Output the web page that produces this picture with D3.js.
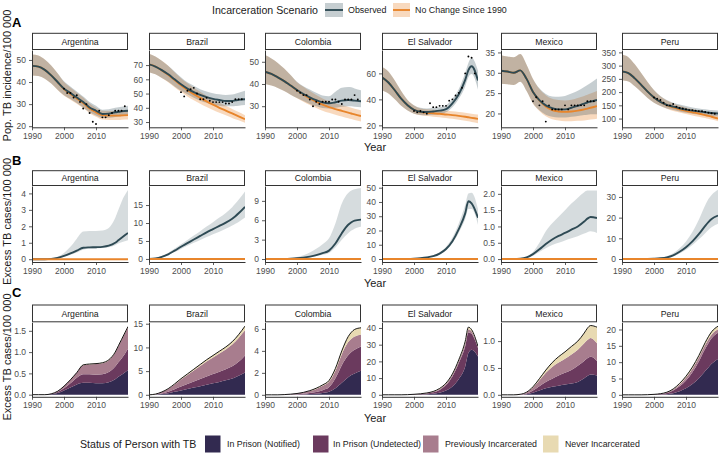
<!DOCTYPE html>
<html><head><meta charset="utf-8">
<script src="https://cdn.jsdelivr.net/npm/d3@7"></script>
<style>body{margin:0;background:#fff;} svg{display:block;font-family:"Liberation Sans",Arial,sans-serif;}</style>
</head><body><svg id="chart" width="720" height="453"></svg>
<script>
// ---------------- DATA ----------------
const countries = ["Argentina","Brazil","Colombia","El Salvador","Mexico","Peru"];
const years = [1990,1992,1994,1996,1998,2000,2002,2004,2006,2008,2010,2012,2014,2016,2017,2018,2020];
const pointYears = [2000,2001,2002,2003,2004,2005,2006,2007,2008,2009,2010,2011,2012,2013,2014,2015,2016,2017,2018,2019];
const xTicks = [1990,2000,2010];

// Panel A: population TB incidence per 100 000 (observed scenario, no-change scenario, reported points)
const argObs   = [47.3,47,45.5,43,40,37,35,33,31,28.5,27,25.5,25.7,26.3,26.5,26.7,27];
const argObsLo = [43,42.7,41.5,39.3,36.5,34,32.3,30.5,28.5,26.3,24.8,23.7,23.8,24.2,24.4,24.5,24.7];
const argObsHi = [52.5,52,50.2,47.5,44,40.3,38,35.7,33.5,31,29.3,27.5,27.7,28.3,28.6,28.8,29.3];
const argNc    = [47.3,47,45.5,43,40,36.8,34.6,32.6,30.5,28,26.3,25,24.8,24.8,24.8,24.9,25];
const argNcLo  = [43,42.7,41.5,39.3,36.4,33.8,32,30.2,28.2,25.9,24.3,23,22.8,22.8,22.8,22.9,23];
const argNcHi  = [52.5,52,50.2,47.5,44,40,37.5,35.2,33,30.3,28.4,27,26.9,26.9,27,27.1,27.3];
const argPts   = [37,35,35,33,34,31,28,30,26,22,21,27,24,24,25,26,27,27,27,29];

const braObs   = [70.5,69,66.5,63.5,60,56.5,53.5,51,49,47.5,46.3,45.5,44.8,44.8,45.2,45.6,46];
const braObsLo = [65,63.5,61,58.3,55,52,49.5,47,45,43.5,42.3,41.5,41,41,41.2,41.5,42];
const braObsHi = [78,76,73,69.5,65.5,61.5,58,55.5,53,51.5,50.3,49.5,49,49.3,49.8,50.5,52];
const braNc    = [70.5,69,66.3,63.2,59.5,55.8,52.5,49.6,47,44.5,42.2,40,38,36,35,34,32];
const braNcLo  = [65,63.5,60.9,58,54.5,51.2,48,45.3,42.9,40.6,38.5,36.5,34.7,32.9,32,31.2,29.5];
const braNcHi  = [78,76,73,69.5,65,60.8,57.2,54,51.2,48.5,46,43.6,41.4,39.2,38.1,37,34.8];
const braPts   = [51,48,52,53,54,50,46,46,47,45,44,44,44,44,43,43,44,46,46,46];

const colObs   = [45.5,44.5,43,41.3,39.3,37.3,35.5,34,32.7,31.7,31.3,31.8,32.5,32.8,32.7,32.5,32.2];
const colObsLo = [40,39.3,38.2,36.8,35.2,33.7,32.3,31,30,29.2,29,29.3,29.8,30,30,29.8,29.5];
const colObsHi = [53,51.5,49.5,47,44,41,39,37.5,36,34.8,34.5,36.5,38.3,38.6,38.5,38,37.2];
const colNc    = [45.5,44.5,43,41.3,39.3,37.2,35.3,33.5,32,30.7,29.6,28.7,27.9,27.1,26.7,26.3,25.6];
const colNcLo  = [40,39.3,38.2,36.8,35.2,33.6,32,30.5,29.2,28,27,26.2,25.4,24.6,24.2,23.8,23.1];
const colNcHi  = [53,51.5,49.5,47,44,40.8,38.7,36.8,35,33.5,32.3,31.3,30.5,29.7,29.3,28.9,28.2];
const colPts   = [37,36,35,35,33,30,32,31,32,32,32,33,33,32,31,33,33,33,35,33];

const slvObs   = [57,53,47,40.5,35.5,32,30.5,30.3,30.7,31.3,32.5,37,44,55,62.5,65.5,54.5];
const slvObsLo = [47,44.5,40,35,31.5,29,28,27.8,28.2,28.8,30,34,40.5,50,57,59.5,47.5];
const slvObsHi = [65,61.5,54.5,46.5,39.5,35.5,33.5,33,33.5,34,35.5,40.5,48,60.5,68,72,62];
const slvNc    = [57,53,47,40.5,35.5,32,30.2,29.7,29.3,28.9,28.4,27.9,27.3,26.6,26.2,25.8,25];
const slvNcLo  = [47,44.5,40,35,31.5,29,27.8,27.2,26.7,26.2,25.6,25,24.3,23.5,23.1,22.6,21.7];
const slvNcHi  = [65,61.5,54.5,46.5,39.5,35.3,33,32.3,32,31.6,31.2,30.8,30.3,29.7,29.3,29,28.3];
const slvPts   = [31,30,31,30,29,37,34,34,35,35,35,39,40,43,45,49,60,73,72,60];

const mexObs   = [30.5,30.3,30,30.6,28.5,25.3,23.3,22,21.3,21,21,21.4,21.9,22.4,22.7,22.9,23.3];
const mexObsLo = [27.3,27.2,27,27.8,25.5,22.5,20.8,19.7,19.2,19,19,19.2,19.4,19.6,19.7,19.8,19.8];
const mexObsHi = [34.3,34,33.8,34.6,32,28.5,26.2,24.8,24.2,24.1,24.3,24.9,25.6,26.5,27,27.5,28.6];
const mexNc    = [30.5,30.3,30,30.6,28.5,25.3,23.2,21.7,20.8,20.5,20.4,20.5,20.7,21,21.2,21.4,21.8];
const mexNcLo  = [27.3,27.2,27,27.8,25.5,22.4,20.6,19.3,18.6,18.3,18.1,18.1,18.2,18.3,18.4,18.5,18.7];
const mexNcHi  = [34.3,34,33.8,34.6,32,28.5,26,24.5,23.6,23.3,23.2,23.4,23.8,24.3,24.6,24.9,25.5];
const mexPts   = [23,24,22,23,18,22,21,21,21,21,22,21,22,22,22,22,22,23,23,23];

const perObs   = [278,272,252,227,202,180,163,152,145,139,134,130,127,124,122.5,121,119];
const perObsLo = [245,240,222,200,178,160,147,138,132,127,122,118,115,112,111,110,108];
const perObsHi = [342,332,305,272,238,208,185,170,160,153,147,142,138,135,133.5,132,130];
const perNc    = [278,272,252,227,202,180,163,151,142,135,129,124,119,113,110,107,100];
const perNcLo  = [245,240,222,200,178,160,147,137,129,123,117,112,107,102,99,96,90];
const perNcHi  = [342,332,305,272,238,207,184,168,157,149,142,136,131,125,122,119,112];
const perPts   = [180,175,170,160,150,150,155,145,140,138,135,132,132,130,128,128,125,122,120,118];

// Panel B: excess TB cases per 100 000 (median and interval)
const argExc   = [0,0,0,0.02,0.08,0.2,0.35,0.52,0.7,0.72,0.73,0.75,0.82,1.0,1.15,1.3,1.6];
const argExcLo = [0,0,0,0.01,0.05,0.14,0.26,0.4,0.58,0.63,0.65,0.68,0.72,0.85,0.95,1.03,1.15];
const argExcHi = [0,0,0,0.04,0.15,0.38,0.75,1.25,1.68,1.72,1.72,1.75,1.9,2.5,3.0,3.5,4.2];
const braExc   = [0,0.15,0.6,1.3,2.3,3.4,4.4,5.4,6.4,7.4,8.3,9.2,10.1,11.2,11.9,12.7,14.5];
const braExcLo = [0,0.1,0.45,1.05,1.9,2.8,3.7,4.5,5.3,6.1,6.9,7.6,8.4,9.3,9.8,10.3,11.5];
const braExcHi = [0,0.2,0.8,1.7,2.9,4.1,5.3,6.5,7.7,9.0,10.2,11.5,12.8,14.4,15.4,16.5,18.8];
const colExc   = [0,0,0,0.02,0.06,0.12,0.22,0.38,0.6,0.9,1.3,2.4,4.0,5.3,5.7,5.95,6.1];
const colExcLo = [0,0,0,0.01,0.04,0.08,0.15,0.25,0.42,0.65,0.95,1.8,3.0,4.0,4.4,4.7,5.0];
const colExcHi = [0,0,0,0.04,0.12,0.3,0.6,1.0,1.6,2.3,3.2,5.5,8.6,10.2,10.6,10.8,11.0];
const slvExc   = [0,0,0,0,0.1,0.3,0.6,1.1,2.0,3.8,7,12.5,21,32,40.5,39,29];
const slvExcLo = [0,0,0,0,0.05,0.2,0.45,0.9,1.6,3.2,6,11,18.5,28,35,35,24];
const slvExcHi = [0,0,0,0,0.15,0.45,0.9,1.5,2.6,4.8,8.5,15,25,38,46,46.5,35];
const mexExc   = [0,0,0,0.01,0.05,0.15,0.3,0.46,0.6,0.71,0.8,0.9,1.0,1.15,1.24,1.29,1.26];
const mexExcLo = [0,0,0,0.005,0.03,0.1,0.22,0.33,0.43,0.5,0.57,0.64,0.7,0.78,0.82,0.85,0.8];
const mexExcHi = [0,0,0,0.02,0.08,0.22,0.5,0.85,1.1,1.3,1.5,1.7,1.88,2.05,2.1,2.1,2.1];
const perExc   = [0,0,0,0,0.05,0.15,0.35,0.8,1.8,3.5,5.7,8.5,12,16,17.8,19.3,21];
const perExcLo = [0,0,0,0,0.03,0.1,0.25,0.55,1.3,2.7,4.5,6.8,9.5,12.5,14,15.3,17];
const perExcHi = [0,0,0,0,0.08,0.25,0.55,1.3,2.8,5.2,8.5,13,19,26,29,31,33.5];

// Panel C: excess cases by status of person with TB
const statusKeys = ["In Prison (Notified)","In Prison (Undetected)","Previously Incarcerated","Never Incarcerated"];
const argNotified = [0,0,0,0.01,0.04,0.1,0.17,0.24,0.28,0.28,0.27,0.27,0.29,0.36,0.42,0.47,0.58];
const argUndet    = [0,0,0,0.005,0.02,0.05,0.1,0.16,0.2,0.2,0.2,0.21,0.24,0.3,0.34,0.38,0.5];
const argPrev     = [0,0,0,0.005,0.02,0.05,0.08,0.12,0.21,0.23,0.25,0.26,0.28,0.33,0.38,0.44,0.5];
const argNever    = [0,0,0,0,0,0,0,0,0.01,0.01,0.01,0.01,0.01,0.01,0.01,0.01,0.02];
const braNotified = [0,0.04,0.16,0.35,0.62,0.92,1.22,1.52,1.82,2.12,2.42,2.72,3.05,3.45,3.72,4.0,4.7];
const braUndet    = [0,0.04,0.14,0.31,0.55,0.82,1.06,1.3,1.53,1.75,1.95,2.15,2.36,2.6,2.75,2.95,3.6];
const braPrev     = [0,0.06,0.27,0.57,1.01,1.49,1.9,2.31,2.73,3.16,3.51,3.86,4.17,4.55,4.78,5.05,5.3];
const braNever    = [0,0.01,0.03,0.07,0.12,0.17,0.22,0.27,0.32,0.37,0.42,0.47,0.52,0.6,0.65,0.7,0.9];
const colNotified = [0,0,0,0.005,0.01,0.02,0.04,0.07,0.1,0.17,0.28,0.6,1.1,1.6,1.8,1.95,2.2];
const colUndet    = [0,0,0,0.005,0.015,0.03,0.06,0.1,0.16,0.25,0.4,0.9,1.6,2.0,2.1,2.15,2.2];
const colPrev     = [0,0,0,0.01,0.03,0.06,0.1,0.17,0.28,0.4,0.5,0.7,1.0,1.2,1.2,1.2,1.1];
const colNever    = [0,0,0,0,0.005,0.01,0.02,0.04,0.06,0.08,0.12,0.2,0.3,0.5,0.6,0.65,0.6];
const slvNotified = [0,0,0,0,0.03,0.1,0.2,0.35,0.6,1.2,2.5,5,9.5,17,25,27,23];
const slvUndet    = [0,0,0,0,0.04,0.12,0.25,0.45,0.85,1.7,3.3,6,9.5,12,12.5,9.5,5];
const slvPrev     = [0,0,0,0,0.02,0.05,0.1,0.2,0.35,0.6,0.8,1.0,1.3,1.8,1.8,1.6,0.7];
const slvNever    = [0,0,0,0,0.01,0.03,0.05,0.1,0.2,0.3,0.4,0.5,0.7,1.2,1.2,0.9,0.3];
const mexNotified = [0,0,0,0.002,0.012,0.04,0.08,0.12,0.15,0.17,0.19,0.21,0.24,0.31,0.35,0.38,0.36];
const mexUndet    = [0,0,0,0.003,0.013,0.04,0.08,0.12,0.15,0.19,0.22,0.25,0.3,0.32,0.33,0.33,0.27];
const mexPrev     = [0,0,0,0.004,0.02,0.055,0.11,0.17,0.22,0.24,0.26,0.29,0.3,0.33,0.34,0.35,0.33];
const mexNever    = [0,0,0,0.001,0.005,0.015,0.03,0.05,0.08,0.11,0.13,0.15,0.16,0.19,0.22,0.23,0.3];
const perNotified = [0,0,0,0,0.01,0.03,0.08,0.2,0.5,1.1,2.0,3.3,5.0,7.3,8.4,9.5,11];
const perUndet    = [0,0,0,0,0.02,0.06,0.15,0.35,0.8,1.5,2.4,3.6,5.2,6.8,7.4,7.8,8];
const perPrev     = [0,0,0,0,0.015,0.04,0.08,0.18,0.35,0.6,0.9,1.1,1.2,1.2,1.2,1.2,1.1];
const perNever    = [0,0,0,0,0.005,0.02,0.04,0.07,0.15,0.3,0.4,0.5,0.6,0.7,0.8,0.8,0.9];

// Tick labels per panel
const ticksA = [[20,30,40,50],[30,40,50,60,70],[30,40,50],[20,40,60],[20,25,30,35],[100,150,200,250,300,350]];
const ticksB = [[0,1,2,3,4],[0,5,10,15],[0,3,6,9],[0,10,20,30,40,50],[0,0.5,1.0,1.5,2.0],[0,10,20,30]];
const ticksC = [[0,0.5,1.0,1.5],[0,5,10,15],[0,2,4,6],[0,10,20,30,40],[0,0.5,1.0],[0,5,10,15,20]];

// ---------------- TABLES built from arrays ----------------
const incTable = [
  [argObs,argObsLo,argObsHi,argNc,argNcLo,argNcHi,argPts],
  [braObs,braObsLo,braObsHi,braNc,braNcLo,braNcHi,braPts],
  [colObs,colObsLo,colObsHi,colNc,colNcLo,colNcHi,colPts],
  [slvObs,slvObsLo,slvObsHi,slvNc,slvNcLo,slvNcHi,slvPts],
  [mexObs,mexObsLo,mexObsHi,mexNc,mexNcLo,mexNcHi,mexPts],
  [perObs,perObsLo,perObsHi,perNc,perNcLo,perNcHi,perPts]
];
const excTable = [
  [argExc,argExcLo,argExcHi],[braExc,braExcLo,braExcHi],[colExc,colExcLo,colExcHi],
  [slvExc,slvExcLo,slvExcHi],[mexExc,mexExcLo,mexExcHi],[perExc,perExcLo,perExcHi]
];
const statusTable = [
  [argNotified,argUndet,argPrev,argNever],[braNotified,braUndet,braPrev,braNever],
  [colNotified,colUndet,colPrev,colNever],[slvNotified,slvUndet,slvPrev,slvNever],
  [mexNotified,mexUndet,mexPrev,mexNever],[perNotified,perUndet,perPrev,perNever]
];

// ---------------- LAYOUT / STYLE ----------------
const panelX = [32,149,265,382,501,622];
const panelW = 96;
const rows = [
  {strip:33.3, top:50, bottom:127.3},
  {strip:170.7, top:186, bottom:262},
  {strip:305, top:322.3, bottom:396.8}
];
const domA = [[19.5,54.5],[26.3,80.6],[20.5,55.3],[18.5,78],[16.6,35.6],[67,359]];
const domB = [[-0.17,4.45],[-0.85,20.3],[-0.46,11.3],[-2.1,51.2],[-0.09,2.24],[-1.45,35.3]];
const domC = [[-0.05,1.70],[-0.42,15.3],[-0.18,6.6],[-1.2,43.4],[-0.037,1.35],[-0.6,22.2]];
const obsLine = "#2e4a54", obsBand = "rgba(50,80,90,0.28)", obsBandB = "rgba(50,80,90,0.2)";
const ncLine = "#e8852b", ncBand = "rgba(232,128,40,0.30)";
const stackColors = ["#322a50","#6b3a5e","#a87d8e","#e8dab2"];
const curve = d3.curveMonotoneX;

const svg = d3.select("#chart");
const defs = svg.append("defs");

function drawFrame(r, ci, y, ticks, fmt) {
  const row = rows[r];
  const x = d3.scaleLinear().domain([1990,2020]).range([panelX[ci], panelX[ci]+panelW]);
  svg.append("rect").attr("x",panelX[ci]+0.5).attr("y",row.strip)
    .attr("width",panelW-1).attr("height",row.top-row.strip-0.5)
    .attr("fill","#fff").attr("stroke","#333").attr("stroke-width",1);
  svg.append("text").attr("x",panelX[ci]+panelW/2).attr("y",(row.strip+row.top)/2+3.1)
    .attr("text-anchor","middle").attr("font-size",8.7).attr("fill","#1a1a1a").text(countries[ci]);
  const id = "clip"+r+"_"+ci;
  defs.append("clipPath").attr("id",id).append("rect")
    .attr("x",panelX[ci]).attr("y",row.top).attr("width",panelW).attr("height",row.bottom-row.top);
  const g = svg.append("g").attr("clip-path","url(#"+id+")");
  return {x, g, finish: () => {
    const ya = svg.append("g").attr("transform","translate("+panelX[ci]+",0)")
      .call(d3.axisLeft(y).tickValues(ticks).tickSize(3).tickSizeOuter(0).tickPadding(3).tickFormat(fmt));
    const xa = svg.append("g").attr("transform","translate(0,"+row.bottom+")")
      .call(d3.axisBottom(x).tickValues(xTicks).tickSize(3).tickSizeOuter(0).tickPadding(2.5).tickFormat(d3.format("d")));
    [ya,xa].forEach(a => {
      a.select(".domain").attr("stroke","#333").attr("stroke-width",1);
      a.selectAll(".tick line").attr("stroke","#333").attr("stroke-width",0.8);
      a.selectAll(".tick text").attr("fill","#4d4d4d").attr("font-size",8.5)
        .attr("font-family","'Liberation Sans',Arial,sans-serif");
    });
  }};
}

function fmtFor(ticks) {
  return ticks.some(t => t % 1 !== 0) ? d3.format(".1f") : d3.format("d");
}

// Row A
countries.forEach((c, ci) => {
  const row = rows[0];
  const y = d3.scaleLinear().domain(domA[ci]).range([row.bottom, row.top]);
  const f = drawFrame(0, ci, y, ticksA[ci], fmtFor(ticksA[ci]));
  const [mid, lo, hi, nc, ncLo, ncHi, pts] = incTable[ci];
  const band = (loA, hiA) => d3.area().curve(curve).x((d,i)=>f.x(years[i])).y0((d,i)=>y(loA[i])).y1((d,i)=>y(hiA[i]))(years);
  const line = arr => d3.line().curve(curve).x((d,i)=>f.x(years[i])).y((d,i)=>y(arr[i]))(years);
  f.g.append("path").attr("d",band(ncLo,ncHi)).attr("fill",ncBand);
  f.g.append("path").attr("d",band(lo,hi)).attr("fill",obsBand);
  f.g.append("path").attr("d",line(nc)).attr("fill","none").attr("stroke",ncLine).attr("stroke-width",1.9);
  f.g.append("path").attr("d",line(mid)).attr("fill","none").attr("stroke",obsLine).attr("stroke-width",1.9);
  f.g.selectAll(null).data(pts).enter().append("circle")
    .attr("cx",(d,i)=>f.x(pointYears[i])).attr("cy",d=>y(d)).attr("r",0.95).attr("fill","#000");
  f.finish();
});

// Row B
countries.forEach((c, ci) => {
  const row = rows[1];
  const y = d3.scaleLinear().domain(domB[ci]).range([row.bottom, row.top]);
  const f = drawFrame(1, ci, y, ticksB[ci], fmtFor(ticksB[ci]));
  const [mid, lo, hi] = excTable[ci];
  f.g.append("path").attr("d", d3.area().curve(curve).x((d,i)=>f.x(years[i])).y0((d,i)=>y(lo[i])).y1((d,i)=>y(hi[i]))(years))
    .attr("fill",obsBandB);
  f.g.append("path").attr("d", d3.line().curve(curve).x((d,i)=>f.x(years[i])).y((d,i)=>y(mid[i]))(years))
    .attr("fill","none").attr("stroke",obsLine).attr("stroke-width",1.9);
  f.g.append("path").attr("d", d3.line().x(d=>f.x(d)).y(()=>y(0))([1990,2020]))
    .attr("fill","none").attr("stroke",ncLine).attr("stroke-width",2);
  f.finish();
});

// Row C
countries.forEach((c, ci) => {
  const row = rows[2];
  const y = d3.scaleLinear().domain(domC[ci]).range([row.bottom, row.top]);
  const f = drawFrame(2, ci, y, ticksC[ci], fmtFor(ticksC[ci]));
  const comps = statusTable[ci];
  const tbl = years.map((yr,i) => {
    const o = {year: yr};
    statusKeys.forEach((k,j) => o[k] = comps[j][i]);
    return o;
  });
  const series = d3.stack().keys(statusKeys)(tbl);
  const area = d3.area().curve(curve).x(d=>f.x(d.data.year)).y0(d=>y(d[0])).y1(d=>y(d[1]));
  f.g.selectAll(null).data(series).enter().append("path")
    .attr("d",area).attr("fill",(d,i)=>stackColors[i]);
  const top = series[series.length-1];
  f.g.append("path").attr("d", d3.line().curve(curve).x(d=>f.x(d.data.year)).y(d=>y(d[1]))(top))
    .attr("fill","none").attr("stroke","#000").attr("stroke-width",0.9);
  f.finish();
});

// ---------------- TITLES / TAGS ----------------
const tags = [["A",27],["B",164.5],["C",297]];
tags.forEach(([t,yy]) => svg.append("text").attr("x",12).attr("y",yy).attr("font-size",13)
  .attr("font-weight","bold").attr("fill","#000").text(t));
const yTitles = [["Pop. TB incidence/100 000",75.5],["Excess TB cases/100 000",221.5],["Excess TB cases/100 000",357]];
yTitles.forEach(([t,cy]) => svg.append("text").attr("transform","translate(10.5,"+cy+") rotate(-90)")
  .attr("text-anchor","middle").attr("font-size",11).attr("fill","#1a1a1a").text(t));
const yearY = [151,286.5,422];
yearY.forEach(yy => svg.append("text").attr("x",375).attr("y",yy).attr("text-anchor","middle")
  .attr("font-size",11).attr("fill","#1a1a1a").text("Year"));

// Top legend
svg.append("text").attr("x",212).attr("y",13.5).attr("font-size",10.6).attr("fill","#1a1a1a").text("Incarceration Scenario");
const topKeys = [
  {x:325, w:18, band:obsBand, line:obsLine, label:"Observed", tx:348},
  {x:393, w:17, band:ncBand, line:ncLine, label:"No Change Since 1990", tx:415}
];
topKeys.forEach(k => {
  svg.append("rect").attr("x",k.x).attr("y",3).attr("width",k.w).attr("height",14).attr("fill",k.band);
  svg.append("line").attr("x1",k.x).attr("x2",k.x+k.w).attr("y1",10).attr("y2",10).attr("stroke",k.line).attr("stroke-width",1.9);
  svg.append("text").attr("x",k.tx).attr("y",13).attr("font-size",8.9).attr("fill","#1a1a1a").text(k.label);
});

// Bottom legend
svg.append("text").attr("x",80).attr("y",448).attr("font-size",10.6).attr("fill","#1a1a1a").text("Status of Person with TB");
const keyX = [205,313,423,543];
const keyTx = [227,333,445,565];
statusKeys.forEach((k,i) => {
  svg.append("rect").attr("x",keyX[i]).attr("y",435.5).attr("width",15.5).attr("height",17).attr("fill",stackColors[i]);
  svg.append("text").attr("x",keyTx[i]).attr("y",447).attr("font-size",8.8).attr("fill","#1a1a1a").text(k);
});
</script></body></html>
